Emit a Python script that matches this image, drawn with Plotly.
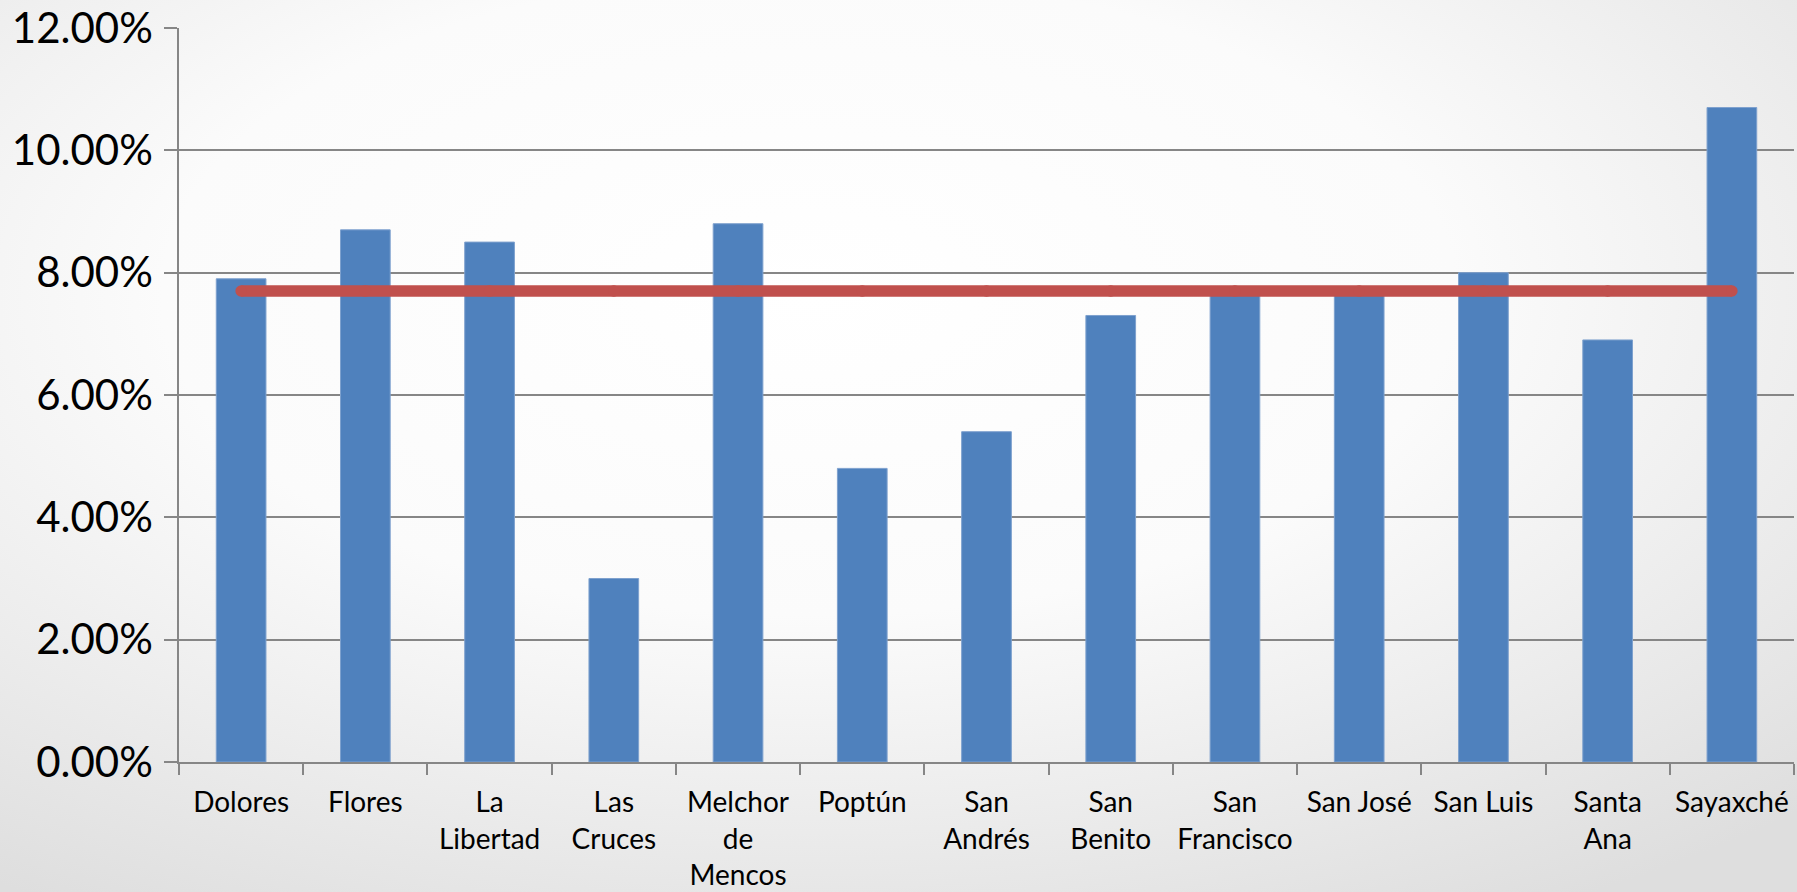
import base64
import plotly.graph_objects as go

categories = ["Dolores", "Flores", "La<br>Libertad", "Las<br>Cruces", "Melchor<br>de<br>Mencos",
              "Poptún", "San<br>Andrés", "San<br>Benito", "San<br>Francisco", "San José",
              "San Luis", "Santa<br>Ana", "Sayaxché"]
values = [0.079, 0.087, 0.085, 0.030, 0.088, 0.048, 0.054, 0.073, 0.077, 0.077, 0.080, 0.069, 0.107]
average = [0.077] * len(categories)
y_ticks = [0, 0.02, 0.04, 0.06, 0.08, 0.10, 0.12]

W, H = 1797, 892
L, R, T, B = 179, 3, 28, 130
pw, ph = W - L - R, H - T - B

svg = f'''<svg xmlns="http://www.w3.org/2000/svg" width="{W}" height="{H}" viewBox="0 0 {W} {H}" preserveAspectRatio="none">
<defs><radialGradient id="g" cx="0.45" cy="0.33" r="0.8" gradientUnits="objectBoundingBox">
<stop offset="0" stop-color="#ffffff"/><stop offset="0.45" stop-color="#fbfbfb"/>
<stop offset="1" stop-color="#dedede"/></radialGradient></defs>
<rect width="{W}" height="{H}" fill="url(#g)"/></svg>'''
bg = "data:image/svg+xml;base64," + base64.b64encode(svg.encode()).decode()

fig = go.Figure()
fig.add_trace(go.Bar(x=categories, y=values, marker=dict(color="#4F81BD", line=dict(color="#7EA1CE", width=1)),
                     showlegend=False, hoverinfo="skip"))
fig.add_trace(go.Scatter(x=categories, y=average, mode="lines+markers",
                         line=dict(color="#C0504D", width=11.5),
                         marker=dict(color="#C0504D", size=11.5, line=dict(width=0)),
                         showlegend=False, hoverinfo="skip"))

fig.add_layout_image(dict(source=bg, xref="paper", yref="paper",
                          x=-L / pw, y=1 + T / ph, sizex=W / pw, sizey=H / ph,
                          sizing="stretch", xanchor="left", yanchor="top", layer="below"))

fig.update_layout(
    width=W, height=H,
    margin=dict(l=L, r=R, t=T, b=B, autoexpand=False),
    paper_bgcolor="#ececec",
    plot_bgcolor="rgba(0,0,0,0)",
    bargap=0.6,
    font=dict(family="Lato, Carlito, Calibri, sans-serif", color="#000000"),
)
fig.update_xaxes(type="category", range=[-0.5, len(categories) - 0.5],
                 tickson="boundaries", ticks="outside", ticklen=11,
                 tickcolor="#868686", tickwidth=1.5, showline=True, linecolor="#868686", linewidth=1.5,
                 tickfont=dict(size=28), showgrid=False, ticklabelstandoff=15, tickangle=0,
                 automargin=False)
fig.update_yaxes(range=[0, 0.12], tickvals=y_ticks, tickformat=".2%", ticks="outside", ticklen=13,
                 tickcolor="#868686", tickwidth=1.5, showline=True, linecolor="#868686", linewidth=1.5,
                 showgrid=True, gridcolor="#868686", gridwidth=1.5, zeroline=False,
                 tickfont=dict(size=42), ticklabelstandoff=3, ticklabeloverflow="allow",
                 automargin=False)

# remove the page's default body margin so the figure fills the window exactly
fig.write_html("out.html", config={"displayModeBar": False},
               post_script="document.body.style.margin='0px';")
